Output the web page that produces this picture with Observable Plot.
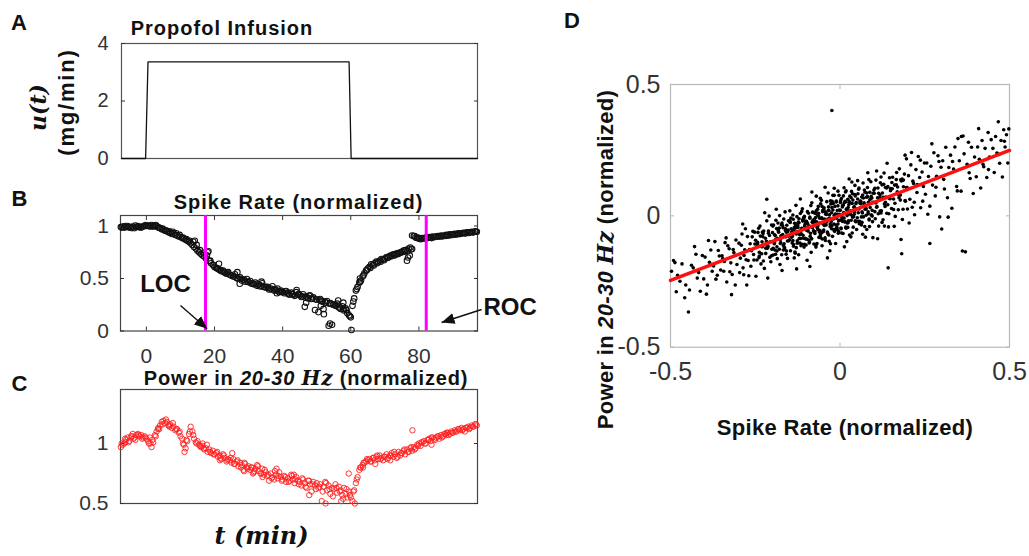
<!DOCTYPE html>
<html><head><meta charset="utf-8">
<script src="https://cdn.jsdelivr.net/npm/d3@7"></script>
<script src="https://cdn.jsdelivr.net/npm/@observablehq/plot@0.6"></script>
<style>
body{margin:0;background:#fff;}
#fig{position:relative;width:1029px;height:556px;overflow:hidden;background:#fff;}
#fig svg{position:absolute;}
</style></head>
<body><div id="fig"></div>
<script>
// ---------- data ----------
const infusionT = [-7.6, -0.5, 0.2, 59.4, 60.0, 97.2];
const infusionU = [0, 0, 3.36, 3.36, 0, 0];
const doseTicks = [0, 2, 4];

// samples every 0.5 min from -7.5 min
const sampleStart = -7.5, sampleStep = 0.5;
const spikeRate = [
0.99,0.995,0.985,0.99,1.0,0.985,0.99,0.995,0.98,0.99,1.0,0.99,0.985,0.995,1.0,
1.0,1.005,0.995,1.01,1.0,0.995,1.0,0.985,0.98,0.97,
0.965,0.955,0.95,0.94,0.935,0.925,0.93,0.915,0.91,0.9,
0.895,0.885,0.88,0.87,0.86,0.85,0.835,0.82,0.8,0.785,
0.765,0.75,0.735,0.72,0.71,0.69,0.75,0.665,0.645,0.63,
0.61,0.6,0.59,0.58,0.57,0.575,0.555,0.545,0.56,0.535,
0.53,0.52,0.54,0.505,0.5,0.51,0.48,0.49,0.47,0.495,
0.465,0.475,0.45,0.445,0.46,0.43,0.445,0.425,0.455,0.42,
0.415,0.42,0.395,0.405,0.425,0.385,0.39,0.405,0.37,0.385,
0.37,0.36,0.38,0.355,0.345,0.365,0.35,0.335,0.37,0.345,
0.34,0.325,0.35,0.23,0.33,0.31,0.34,0.305,0.32,0.2,
0.3,0.18,0.305,0.28,0.21,0.275,0.285,0.05,0.265,0.06,
0.255,0.24,0.26,0.225,0.21,0.235,0.195,0.215,0.17,0.15,
0.13,0.24,0.31,0.385,0.42,0.46,0.48,0.52,0.55,0.575,
0.595,0.61,0.635,0.63,0.645,0.66,0.655,0.67,0.685,0.68,
0.69,0.705,0.7,0.715,0.72,0.73,0.725,0.74,0.735,0.75,
0.755,0.765,0.77,0.67,0.785,0.795,0.91,0.905,0.89,0.885,
0.88,0.875,0.885,0.88,0.89,0.885,0.895,0.89,0.9,0.895,
0.9,0.905,0.9,0.91,0.905,0.91,0.915,0.91,0.92,0.915,
0.92,0.925,0.92,0.93,0.925,0.93,0.935,0.93,0.94,0.935,
0.94,0.945,0.94,0.95,0.945];
// second set, every 1 min from -7.25 min
const sample2Start = -7.25, sample2Step = 1;
const spikeRate2 = [
0.985,1.0,0.99,0.98,1.005,0.99,0.995,1.01,
1.0,0.995,1.01,0.985,0.975,0.96,0.95,0.945,0.93,0.915,
0.89,0.875,0.86,0.85,0.82,0.77,0.745,0.72,0.67,0.625,
0.6,0.58,0.565,0.555,0.53,0.52,0.5,0.495,0.485,0.47,
0.455,0.445,0.44,0.43,0.42,0.41,0.395,0.4,0.38,0.375,
0.375,0.36,0.35,0.34,0.355,0.33,0.32,0.335,0.31,0.3,
0.295,0.285,0.27,0.26,0.25,0.245,0.225,0.21,0.2,0.14,
0.28,0.4,0.47,0.53,0.58,0.6,0.625,0.645,0.66,0.675,
0.695,0.71,0.72,0.735,0.745,0.755,0.76,0.78,0.905,0.89,
0.88,0.885,0.89,0.885,0.895,0.9,0.9,0.905,0.91,0.915,
0.92,0.925,0.93,0.93,0.935,0.94,0.945];
const spikeExtraT = [18.2,21.3,26.7,27.4,33.8,38.3,44.1,46.9,51.2,52.1,53.9,56.3,57.8,58.6,60.2,76.8,77.3,78.0,14.2,62.7];
const spikeExtraV = [0.76,0.64,0.56,0.45,0.47,0.36,0.39,0.27,0.24,0.16,0.07,0.29,0.27,0.2,0.01,0.7,0.72,0.78,0.86,0.5];

const power = [
0.97,0.99,1.0,1.03,1.05,1.02,1.06,1.08,1.05,1.07,1.08,1.06,1.07,1.05,1.06,
1.04,1.02,1.05,0.97,1.01,1.07,1.1,1.13,1.15,1.18,
1.19,1.17,1.18,1.15,1.16,1.13,1.14,1.11,1.12,1.09,
1.06,1.04,0.99,0.96,1.02,1.08,1.14,1.1,1.04,1.01,
1.02,0.99,0.97,1.0,0.95,0.96,0.93,0.95,0.92,0.94,
0.91,0.92,0.89,0.9,0.87,0.91,0.88,0.85,0.87,0.86,
0.84,0.87,0.83,0.85,0.81,0.84,0.82,0.78,0.83,0.8,
0.81,0.78,0.8,0.76,0.79,0.82,0.77,0.75,0.79,0.74,
0.76,0.73,0.69,0.75,0.72,0.7,0.74,0.71,0.76,0.72,
0.7,0.73,0.68,0.71,0.69,0.74,0.7,0.67,0.72,0.69,
0.68,0.65,0.7,0.67,0.63,0.69,0.66,0.6,0.68,0.65,
0.67,0.63,0.66,0.52,0.64,0.68,0.61,0.65,0.58,0.63,
0.62,0.66,0.59,0.64,0.61,0.57,0.63,0.58,0.55,0.6,
0.55,0.52,0.61,0.67,0.72,0.78,0.8,0.82,0.84,0.85,
0.86,0.87,0.85,0.88,0.86,0.89,0.87,0.9,0.88,0.86,
0.89,0.91,0.88,0.9,0.92,0.89,0.91,0.88,0.93,0.9,
0.92,0.94,0.91,0.95,0.93,0.96,0.94,0.97,0.96,0.99,
1.0,0.98,1.01,1.02,1.0,1.03,1.04,1.02,1.05,1.04,
1.05,1.06,1.04,1.07,1.06,1.08,1.07,1.09,1.08,1.1,
1.09,1.11,1.1,1.12,1.11,1.13,1.12,1.1,1.13,1.14,
1.13,1.15,1.14,1.16,1.15];
const power2 = [
1.0,1.04,1.01,1.06,1.03,1.07,1.04,1.05,
1.0,1.03,1.06,1.12,1.16,1.2,1.15,1.17,1.12,1.1,
1.0,1.03,1.1,1.07,1.0,0.98,0.96,0.99,0.93,0.91,
0.93,0.88,0.9,0.86,0.88,0.83,0.86,0.8,0.84,0.79,
0.8,0.77,0.81,0.75,0.78,0.74,0.71,0.77,0.73,0.69,
0.72,0.68,0.73,0.7,0.66,0.71,0.64,0.69,0.66,0.62,
0.64,0.6,0.67,0.62,0.56,0.63,0.6,0.54,0.62,0.57,
0.6,0.7,0.8,0.84,0.87,0.85,0.88,0.9,0.87,0.89,
0.87,0.9,0.93,0.89,0.92,0.95,0.93,0.97,0.95,0.98,
1.01,1.0,1.03,1.05,1.03,1.06,1.05,1.08,1.07,1.09,
1.1,1.12,1.11,1.13,1.12,1.14,1.16];
const powerExtraT = [-6.2,-3.8,1.2,3.4,6.8,11.2,16.4,21.6,25.2,28.7,31.3,34.1,38.2,43.3,47.8,52.6,57.2,59.4,61.2,63.6,67.2,71.6,78.1,83.7,88.2];
const powerExtraV = [1.01,1.04,1.0,1.12,1.14,0.93,0.98,0.86,0.92,0.77,0.75,0.72,0.79,0.74,0.57,0.5,0.52,0.75,0.5,0.8,0.83,0.86,1.11,0.99,1.09];

const timeTicks = [0, 20, 40, 60, 80];
const spikeTicks = [0, 0.5, 1];
const powerTicks = [0.5, 1];
const eventTimes = [17.36, 82.15];          // LOC, ROC
const eventLabels = [{t: 5.6, v: 0.443, text: "LOC"}, {t: 106.8, v: 0.229, text: "ROC"}];
const eventArrows = [{t1: 10.0, v1: 0.243, t2: 17.85, v2: 0.021}, {t1: 98.4, v1: 0.205, t2: 86.65, v2: 0.081}];

// panel D: (spike rate, power) pairs, in thousandths
const scatterMilli = [
-497,-211,-483,-289,-491,-170,-472,-249,-466,-183,-458,-312,-479,-226,-455,-263,-487,-178,
-447,-366,-438,-188,-444,-282,-429,-117,-421,-237,-433,-198,-412,-287,-406,-151,-417,-216,-425,-146,-402,-240,
-398,-157,-391,-263,-385,-177,-377,-211,-369,-98,-362,-226,-356,-153,-394,-298,-381,-130,-373,-191,-366,-241,-359,-132,-352,-206,-388,-94,
-348,-152,-343,-211,-339,-102,-334,-252,-346,-163,-327,-125,-322,-179,-318,-223,-331,-114,-313,-140,-309,-263,-336,-84,-304,-185,-315,-128,-325,-213,-341,-174,-307,-92,-320,-300,
-298,-104,-294,-161,-289,-69,-286,-198,-281,-129,-277,-167,-273,-79,-269,-228,-265,-106,-261,-133,-257,-59,-254,-168,-251,-107,-296,-216,-291,-112,-283,-151,-279,-49,-271,-170,-267,-128,-263,-192,-259,-80,-255,-147,-287,-31,-275,-263,-252,-62,-284,-224,
-249,-93,-245,-168,-244,-114,-240,-47,-238,-139,-235,-77,-233,-183,-230,-99,-229,-117,-225,-58,-223,-200,-220,-85,-219,-143,-216,-19,-212,-117,-211,-58,-207,-158,-206,-99,-202,-35,-201,-127,-248,-230,-243,-101,-239,-159,-236,-39,-228,-79,-226,-172,-217,-97,-214,-123,-209,-1,-204,-175,-242,-63,-232,-117,-222,12,-213,-237,-216,63,
-199,-64,-197,-124,-196,-35,-193,-103,-191,-75,-190,-146,-187,-48,-185,-163,-184,-85,-181,-62,-179,-127,-178,1,-175,-102,-173,-34,-172,-148,-169,-71,-167,-113,-166,-12,-163,-127,-161,-56,-160,-80,-157,-36,-155,-162,-154,-60,-151,-95,-198,-39,-194,-106,-189,-17,-186,-134,-182,-58,-177,-185,-174,-77,-170,-36,-165,-106,-162,15,-158,-134,-153,-54,-192,-130,-183,-27,-176,-90,-168,-45,-159,-146,-152,-19,-188,25,-171,-208,
-149,-91,-147,-25,-146,-133,-144,-49,-142,-61,-141,-103,-139,3,-137,-116,-136,-54,-134,-28,-132,-142,-131,-38,-129,-69,-127,-3,-126,-104,-124,-44,-122,-148,-121,-26,-119,-72,-117,9,-116,-86,-114,-52,-112,-108,-111,27,-109,-74,-107,-10,-106,-119,-104,-40,-102,-21,-101,-88,-148,19,-143,-81,-138,-13,-133,-138,-128,-62,-123,-24,-118,-104,-113,17,-108,-85,-103,-32,-145,-8,-135,-160,-125,-37,-115,-114,-105,-2,-140,-77,-130,40,-120,-86,-110,-15,-100,-111,-128,-202,-117,64,
-99,-21,-97,-89,-96,16,-94,-58,-92,-38,-91,-103,-89,-9,-87,-66,-86,39,-84,-88,-82,-24,-81,-45,-79,13,-77,-107,-76,-13,-74,-67,-72,10,-71,-119,-69,-23,-67,5,-66,-48,-64,36,-62,-82,-61,-27,-59,-56,-57,46,-56,-66,-54,-7,-52,-88,-51,16,-98,-56,-93,10,-88,-78,-83,50,-78,-57,-73,-23,-68,-105,-63,-1,-58,-73,-53,36,-95,-45,-85,-139,-75,11,-65,-53,-55,59,-90,-100,-80,-18,-70,75,-60,-62,-50,-31,-97,-169,-83,91,-71,-113,-58,67,-89,-193,-66,25,-53,-114,
-49,-60,-47,31,-46,-12,-44,-84,-42,6,-41,-35,-39,54,-37,-62,-36,-12,-34,21,-32,-97,-31,4,-29,-41,-27,45,-26,-22,-24,32,-22,-78,-21,22,-19,-12,-17,78,-16,-59,-14,7,-12,-35,-11,56,-9,-44,-7,5,-6,94,-4,-60,-2,22,-1,-17,-48,25,-43,-94,-38,-18,-33,20,-28,-106,-23,55,-18,-31,-13,6,-8,-52,-3,78,-45,-33,-35,87,-25,-49,-15,36,-5,-66,-40,5,-30,-133,-20,47,-10,-9,-44,109,-28,57,-13,-105,-37,-160,-21,78,-6,38,-33,-73,-17,105,-24,-38,-24,401,
1,21,3,-46,4,66,6,-10,8,40,9,-67,11,13,13,51,14,-21,16,91,18,-47,19,26,21,1,23,63,24,-26,26,42,28,-73,29,75,31,19,33,-17,34,93,36,-1,38,60,39,-43,41,33,43,16,44,116,46,-21,48,51,49,-52,2,58,7,-21,12,107,17,-43,22,20,27,51,32,-80,37,84,42,6,47,46,5,-65,15,55,25,-19,35,129,45,-19,10,76,20,-98,30,50,40,18,27,140,13,-118,44,81,36,-65,18,95,
51,-7,53,84,54,12,56,106,58,-21,59,55,61,33,63,-35,64,72,66,11,68,125,69,-4,71,50,73,-41,74,90,76,30,78,71,79,-52,81,108,83,15,84,52,86,-12,88,90,89,32,91,130,93,3,94,68,96,-22,98,86,99,51,52,134,57,-30,62,47,67,-70,72,98,77,2,82,164,87,-41,92,74,97,-83,55,101,65,15,75,-81,85,138,95,-1,
101,86,104,-11,106,136,109,35,112,106,114,-39,117,69,119,126,122,19,125,87,127,-15,130,163,133,36,135,72,138,10,141,112,143,-42,146,145,148,65,103,16,108,171,113,8,118,79,124,-25,129,120,134,52,139,200,144,8,149,104,111,-87,121,148,131,-39,142,-198,116,61,
152,28,155,147,158,64,161,117,163,-2,166,138,169,92,172,23,175,179,178,60,181,133,184,-14,187,111,190,159,193,56,196,217,199,26,154,103,160,-40,167,165,173,80,179,137,186,25,192,231,198,108,182,-144,180,-90,
202,153,206,63,209,194,213,33,217,123,220,4,224,176,227,89,231,226,235,146,238,31,242,167,246,112,249,201,204,-27,211,241,219,52,228,119,237,212,244,56,215,132,
252,82,256,201,261,150,265,37,268,189,273,117,277,240,281,76,285,151,289,229,294,-4,298,185,259,6,271,274,283,109,292,207,265,-105,300,-50,
303,210,308,102,312,261,317,69,321,184,326,231,330,29,335,178,339,262,344,112,348,294,306,139,319,-5,332,207,346,95,
352,210,357,94,361,-134,366,236,370,-137,375,196,379,280,384,142,388,261,393,85,397,224,363,304,381,164,358,302,
402,149,406,262,411,215,415,106,419,287,424,187,428,257,433,146,437,317,441,224,446,290,409,332,422,196,438,176,
451,257,455,165,459,302,463,239,467,358,471,200,475,287,479,148,483,328,487,262,491,309,495,201,498,331,469,234,485,284
];
// panel D: extra points of the dense core, in thousandths
const scatterCoreMilli = [
-243,-107,-231,-144,-227,-67,-214,-113,-208,-75,-197,-149,-189,-88,-183,-52,-176,-105,-171,-27,
-164,-120,-158,-62,-152,-77,-147,-23,-139,-94,-135,-45,-129,-121,-124,-28,-118,-70,-113,-47,
-107,-6,-103,-85,-96,-28,-92,-92,-87,-41,-81,14,-77,-60,-72,-6,-68,-42,-63,10,
-57,-83,-54,-10,-48,-54,-43,15,-39,-23,-34,34,-29,-31,-25,12,-19,-52,-14,3,
-11,53,-6,-31,-2,6,3,-49,7,34,12,-8,16,53,21,-27,24,32,29,8,
33,69,38,-5,42,34,47,-22,52,64,56,26,61,56,65,-25,69,68,74,25,
79,87,83,8,88,61,92,3,97,52,103,105,108,33,114,86,121,11,127,71,
134,108,141,42,149,96,158,24,166,118,174,69,183,140,192,58,
-238,-153,-229,-62,-219,-123,-211,-66,-202,-152,-193,-72,-186,-118,-179,-46,-173,-76,-167,-130,
-161,-49,-155,-96,-149,-18,-143,-66,-137,-109,-131,-46,-126,-95,-121,-11,-115,-67,-110,-20,
-105,-108,-99,-23,-94,-47,-89,-5,-84,-86,-79,-26,-74,-60,-70,19,-65,-38,-60,-9,
-55,-64,-51,20,-46,-37,-41,11,-36,-68,-31,-8,-27,-41,-22,47,-17,2,-12,-49,
-8,20,-4,-19,1,51,5,-2,10,41,14,-23,19,25,23,-44,27,54,31,6,
36,47,40,-2,45,76,50,27,54,-21,59,48,63,-4,67,79,72,43,77,26,
81,73,86,-16,90,65,95,21,100,98,106,49,111,69,118,18,124,118,131,45,
138,106,145,66,153,127,162,48,170,110,178,79,187,136,196,108
];
const fitX = [-0.5, 0.5];
const fitY = [-0.246, 0.249];
const scatterTicks = [-0.5, 0, 0.5];

// ---------- helpers ----------
const fig = document.getElementById("fig");
const SANS = "Liberation Sans, Arial, Helvetica, sans-serif";
const SERIF = "DejaVu Serif, serif";
function place(svg, left, top) { svg.style.left = left + "px"; svg.style.top = top + "px"; fig.appendChild(svg); return svg; }
const baseStyle = {fontFamily: SANS, color: "#333", background: "transparent", overflow: "visible", maxWidth: "none"};
const noLabel = () => "";
const series = (vals, start, step) => vals.map((v, i) => ({t: start + step * i, v}));
const spikeData = series(spikeRate, sampleStart, sampleStep)
  .concat(series(spikeRate2, sample2Start, sample2Step))
  .concat(spikeExtraT.map((t, i) => ({t, v: spikeExtraV[i]})));
const powerData = series(power, sampleStart, sampleStep)
  .concat(series(power2, sample2Start, sample2Step))
  .concat(powerExtraT.map((t, i) => ({t, v: powerExtraV[i]})));
const infusion = infusionT.map((t, i) => ({t, u: infusionU[i]}));
const pairs = (arr) => d3.range(0, arr.length, 2).map(i => ({x: arr[i] / 1000, y: arr[i + 1] / 1000}));
const scatter = pairs(scatterMilli).concat(pairs(scatterCoreMilli));
const fit = fitX.map((x, i) => ({x, y: fitY[i]}));

function triangleHead(color) {
  const ns = "http://www.w3.org/2000/svg";
  const m = document.createElementNS(ns, "marker");
  m.setAttribute("viewBox", "-13 -6 13 12");
  m.setAttribute("markerWidth", "13");
  m.setAttribute("markerHeight", "12");
  m.setAttribute("markerUnits", "userSpaceOnUse");
  m.setAttribute("orient", "auto");
  m.setAttribute("refX", "0");
  m.setAttribute("refY", "0");
  const p = document.createElementNS(ns, "path");
  p.setAttribute("d", "M-13,-5.5L0,0L-13,5.5Z");
  p.setAttribute("fill", color);
  p.setAttribute("stroke", "none");
  m.appendChild(p);
  return m;
}

// ---------- Panel A ----------
place(Plot.plot({
  width: 560, height: 175, marginLeft: 121, marginRight: 83, marginTop: 43, marginBottom: 17,
  x: {domain: [-7.6, 97.2], axis: null},
  y: {domain: [0, 4]},
  style: baseStyle,
  marks: [
    Plot.frame({stroke: "#555", strokeWidth: 1.2}),
    Plot.axisY({ticks: doseTicks, tickSize: -4, tickPadding: 17, tickFormat: String, fontSize: 20, label: null}),
    Plot.axisY({anchor: "right", ticks: doseTicks, tickSize: -4, tickFormat: noLabel, label: null}),
    Plot.line(infusion, {x: "t", y: "u", stroke: "#111", strokeWidth: 1.3})
  ]
}), 0, 0);

// ---------- Panel B ----------
place(Plot.plot({
  width: 560, height: 190, marginLeft: 120, marginRight: 83, marginTop: 30, marginBottom: 44.5,
  x: {domain: [-7.6, 97.2]},
  y: {domain: [0, 1.1]},
  style: baseStyle,
  marks: [
    Plot.frame({stroke: "#444", strokeWidth: 1.2}),
    Plot.axisY({ticks: spikeTicks, tickSize: -4, tickPadding: 15.5, tickFormat: String, fontSize: 21, label: null}),
    Plot.axisY({anchor: "right", ticks: spikeTicks, tickSize: -4, tickFormat: noLabel, label: null}),
    Plot.axisX({ticks: timeTicks, tickSize: -4, tickPadding: 21, tickFormat: String, fontSize: 21, label: null}),
    Plot.axisX({anchor: "top", ticks: timeTicks, tickSize: -4, tickFormat: noLabel, label: null}),
    Plot.dot(spikeData, {x: "t", y: "v", r: 2.8, stroke: "#111", strokeWidth: 1.05, fill: "none"}),
    Plot.ruleX(eventTimes, {stroke: "#ff00ff", strokeWidth: 3}),
    Plot.link(eventArrows, {x1: "t1", y1: "v1", x2: "t2", y2: "v2", stroke: "#111", strokeWidth: 1.4, markerEnd: triangleHead}),
    Plot.text(eventLabels, {x: "t", y: "v", text: "text", fontSize: 24, fontWeight: "bold", fill: "#111", textAnchor: "middle", lineAnchor: "middle"})
  ]
}), 0, 185);

// ---------- Panel C ----------
place(Plot.plot({
  width: 560, height: 181, marginLeft: 120, marginRight: 83, marginTop: 14, marginBottom: 53,
  x: {domain: [-7.6, 97.2], axis: null},
  y: {domain: [0.5, 1.45]},
  style: baseStyle,
  marks: [
    Plot.frame({stroke: "#444", strokeWidth: 1.2}),
    Plot.axisY({ticks: powerTicks, tickSize: -4, tickPadding: 16, tickFormat: String, fontSize: 21, label: null}),
    Plot.axisY({anchor: "right", ticks: powerTicks, tickSize: -4, tickFormat: noLabel, label: null}),
    Plot.dot(powerData, {x: "t", y: "v", r: 2.7, stroke: "#ff2020", strokeWidth: 0.9, fill: "none"})
  ]
}), 0, 375);

// ---------- Panel D ----------
place(Plot.plot({
  width: 469, height: 460, marginLeft: 110, marginRight: 20, marginTop: 84, marginBottom: 113.3,
  x: {domain: [-0.5, 0.5]},
  y: {domain: [-0.5, 0.5]},
  style: baseStyle,
  marks: [
    Plot.frame({stroke: "#b8b8b8", strokeWidth: 1.2}),
    Plot.axisY({ticks: scatterTicks, tickSize: -4, tickPadding: 14, tickFormat: String, fontSize: 25, label: null, stroke: "#b8b8b8"}),
    Plot.axisY({anchor: "right", ticks: scatterTicks, tickSize: -4, tickFormat: noLabel, label: null, stroke: "#b8b8b8"}),
    Plot.axisX({ticks: scatterTicks, tickSize: -4, tickPadding: 19, tickFormat: String, fontSize: 25, label: null, stroke: "#b8b8b8"}),
    Plot.axisX({anchor: "top", ticks: scatterTicks, tickSize: -4, tickFormat: noLabel, label: null, stroke: "#b8b8b8"}),
    Plot.dot(scatter, {x: "x", y: "y", r: 1.8, fill: "#000", stroke: "none"}),
    Plot.line(fit, {x: "x", y: "y", stroke: "#ff1010", strokeWidth: 3.5})
  ]
}), 560, 0);

// ---------- text overlay ----------
const ov = d3.create("svg").attr("width", 1029).attr("height", 556)
  .style("left", "0px").style("top", "0px").style("pointer-events", "none");
function txt(x, y, s, o = {}) {
  return ov.append("text").attr("x", x).attr("y", y)
    .attr("font-family", o.family || SANS).attr("font-size", o.size || 20)
    .attr("font-weight", o.weight || "bold").attr("font-style", o.style || "normal")
    .attr("text-anchor", o.anchor || "start").attr("letter-spacing", o.ls || 0)
    .attr("fill", "#111").text(s);
}
txt(11, 30, "A", {size: 22});
txt(11.5, 206, "B", {size: 22});
txt(11.5, 391, "C", {size: 22});
txt(564, 28, "D", {size: 22});
txt(222, 34.5, "Propofol Infusion", {size: 20, anchor: "middle", ls: 1});
txt(298.5, 208.5, "Spike Rate (normalized)", {size: 20, anchor: "middle", ls: 1});
// C title
{
  const t = txt(306, 384.5, "", {size: 20, anchor: "middle", ls: 0.8});
  t.append("tspan").text("Power in ");
  t.append("tspan").attr("font-style", "italic").text("20-30");
  t.append("tspan").text(" ");
  t.append("tspan").attr("font-family", SERIF).attr("font-style", "italic").text("Hz");
  t.append("tspan").text(" (normalized)");
}
// A y label
ov.append("g").attr("transform", "translate(46,107.5) rotate(-90)")
  .append("text").attr("text-anchor", "middle").attr("font-family", SERIF).attr("font-weight", "bold")
  .attr("font-style", "italic").attr("font-size", 22).attr("fill", "#111").text("u(t)");
ov.append("g").attr("transform", "translate(73.5,102) rotate(-90)")
  .append("text").attr("text-anchor", "middle").attr("font-family", SANS).attr("font-weight", "bold")
  .attr("font-size", 22).attr("letter-spacing", 1.8).attr("fill", "#111").text("(mg/min)");
// C x label
txt(261.5, 544, "t (min)", {size: 24, family: SERIF, style: "italic", anchor: "middle"});
// D labels
txt(845, 435, "Spike Rate (normalized)", {size: 22, anchor: "middle", ls: 0.3});
{
  const g = ov.append("g").attr("transform", "translate(613,259.5) rotate(-90)");
  const t = g.append("text").attr("text-anchor", "middle").attr("font-family", SANS).attr("font-weight", "bold")
    .attr("font-size", 22).attr("letter-spacing", 0.3).attr("fill", "#111");
  t.append("tspan").text("Power in ");
  t.append("tspan").attr("font-style", "italic").text("20-30");
  t.append("tspan").text(" ");
  t.append("tspan").attr("font-family", SERIF).attr("font-style", "italic").text("Hz");
  t.append("tspan").text(" (normalized)");
}
fig.appendChild(ov.node());
</script>
</body></html>
